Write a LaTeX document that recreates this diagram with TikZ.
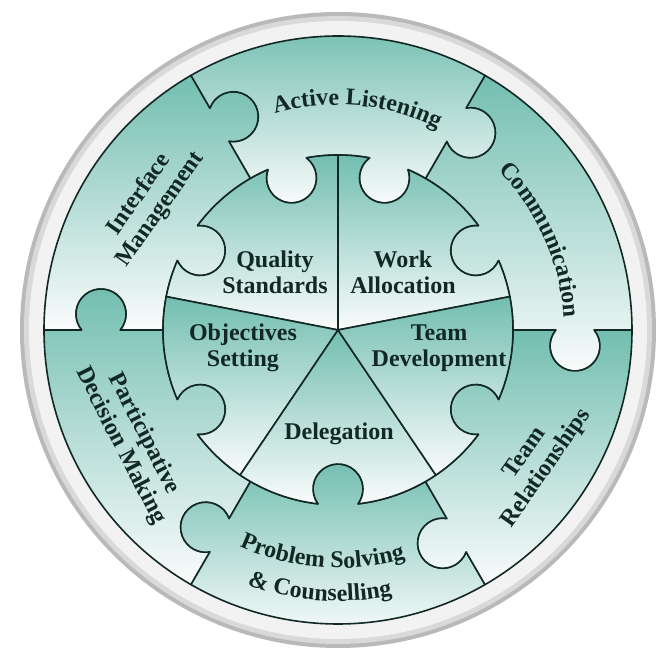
\documentclass[tikz,border=0pt]{standalone}
\usepackage{fontspec}
\setmainfont{Liberation Serif}
\usepackage{tikz}
\usetikzlibrary{decorations.text}

\definecolor{puzteal}{RGB}{114,190,176}
\definecolor{puzpale}{RGB}{250,252,252}
\definecolor{puzline}{RGB}{18,40,36}

% radii and knob sizes (1 unit = 1pt)
\newcommand{\rimR}{175}
\newcommand{\ringR}{294}
\newcommand{\tabR}{237}
\newcommand{\knobr}{25}
\newcommand{\knobs}{19.2}
\newcommand{\knobpsi}{39.8}
\newcommand{\knobd}{6.6}
\newcommand{\knobphi}{53.6}
\newcommand{\pzfont}{\fontsize{24}{26}\selectfont\bfseries}

\tikzset{
  piece/.style={top color=puzteal, middle color=puzteal!38!white, bottom color=puzpale, draw=puzline, line width=1.6pt, line join=round},
  pztext/.style={font=\pzfont, text=puzline, align=center, inner sep=0pt},
  % knob on a seam of the ring, walked outwards / inwards
  tab out/.style={insert path={-- ({#1}:{\tabR-\knobs}) arc[start angle={#1+180-\knobpsi}, end angle={#1+360+\knobpsi}, radius=\knobr] -- ({#1}:\ringR)}},
  tab in/.style={insert path={-- ({#1}:{\tabR+\knobs}) arc[start angle={#1+\knobpsi}, end angle={#1-180-\knobpsi}, radius=\knobr] -- ({#1}:\rimR)}},
  % knob on the inner circle, walked clockwise / anticlockwise
  rim cw/.style 2 args={insert path={arc[start angle={#1}, end angle={#2+\knobd}, radius=\rimR] arc[start angle={#2+\knobphi}, end angle={#2+360-\knobphi}, radius=\knobr] -- ({#2-\knobd}:\rimR)}},
  rim ccw/.style 2 args={insert path={arc[start angle={#1}, end angle={#2-\knobd}, radius=\rimR] arc[start angle={#2-\knobphi}, end angle={#2+\knobphi-360}, radius=\knobr] -- ({#2+\knobd}:\rimR)}},
  arctext/.style={decorate, decoration={text along path, text align=center, text color=puzline, text={|\pzfont|#1}}}
}

\begin{document}
\begin{tikzpicture}[x=1pt, y=1pt]
\useasboundingbox (-338,-320) rectangle (319,330);

% grey rim
\fill[gray!55] (0,0) circle (318);
\fill[gray!30] (0,0) circle (314);
\fill[gray!10] (0,0) circle (309);

% ring pieces
\foreach \a in {0,120,180,240,300}
  \draw[piece] (\a:\rimR) [tab out=\a] arc[start angle=\a, end angle=\a+60, radius=\ringR] [tab in=\a+60] [rim cw={\a+60}{\a+30}] arc[start angle=\a+30-\knobd, end angle=\a, radius=\rimR] -- cycle;
\draw[piece] (60:\rimR) [tab out=60] arc[start angle=60, end angle=120, radius=\ringR] [tab in=120] [rim cw={120}{107}] [rim cw={107-\knobd}{73}] arc[start angle=73-\knobd, end angle=60, radius=\rimR] -- cycle;

% inner pieces
\draw[piece] (0,0) -- (11:\rimR) [rim ccw={11}{30}] [rim ccw={30+\knobd}{73}] arc[start angle=73+\knobd, end angle=90, radius=\rimR] -- cycle;
\draw[piece] (0,0) -- (90:\rimR) [rim ccw={90}{107}] [rim ccw={107+\knobd}{150}] arc[start angle=150+\knobd, end angle=169, radius=\rimR] -- cycle;
\draw[piece] (0,0) -- (169:\rimR) [rim ccw={169}{210}] arc[start angle=210+\knobd, end angle=236, radius=\rimR] -- cycle;
\draw[piece] (0,0) -- (236:\rimR) [rim ccw={236}{270}] arc[start angle=270+\knobd, end angle=304, radius=\rimR] -- cycle;
\draw[piece] (0,0) -- (304:\rimR) [rim ccw={304}{330}] arc[start angle=330+\knobd, end angle=371, radius=\rimR] -- cycle;

% inner labels
\node[pztext] (quality) at (-63,58) {Quality\\Standards};
\node[pztext] (work) at (65,58) {Work\\Allocation};
\node[pztext] (objectives) at (-95,-18) {Objectives\\Setting};
\node[pztext] (teamdev) at (101,-18) {Team\\Development};
\node[pztext] (delegation) at (1,-104) {Delegation};

% ring labels
\node[pztext, rotate=55] (interface) at (-188,128) {Interface\\Management};
\node[pztext, rotate=-63] (participative) at (-206,-110) {Participative\\Decision Making};
\node[pztext, rotate=55] (teamrel) at (198,-131) {Team\\Relationships};
\path[arctext={Active Listening}] (130:225) arc[start angle=130, end angle=40, radius=225];
\path[arctext={Communication}] (74:226) arc[start angle=74, end angle=-26, radius=226];
\path[arctext={Problem Solving}] (216:238) arc[start angle=216, end angle=316, radius=238];
\path[arctext={{\&} Counselling}] (216:271) arc[start angle=216, end angle=316, radius=271];
\end{tikzpicture}
\end{document}
